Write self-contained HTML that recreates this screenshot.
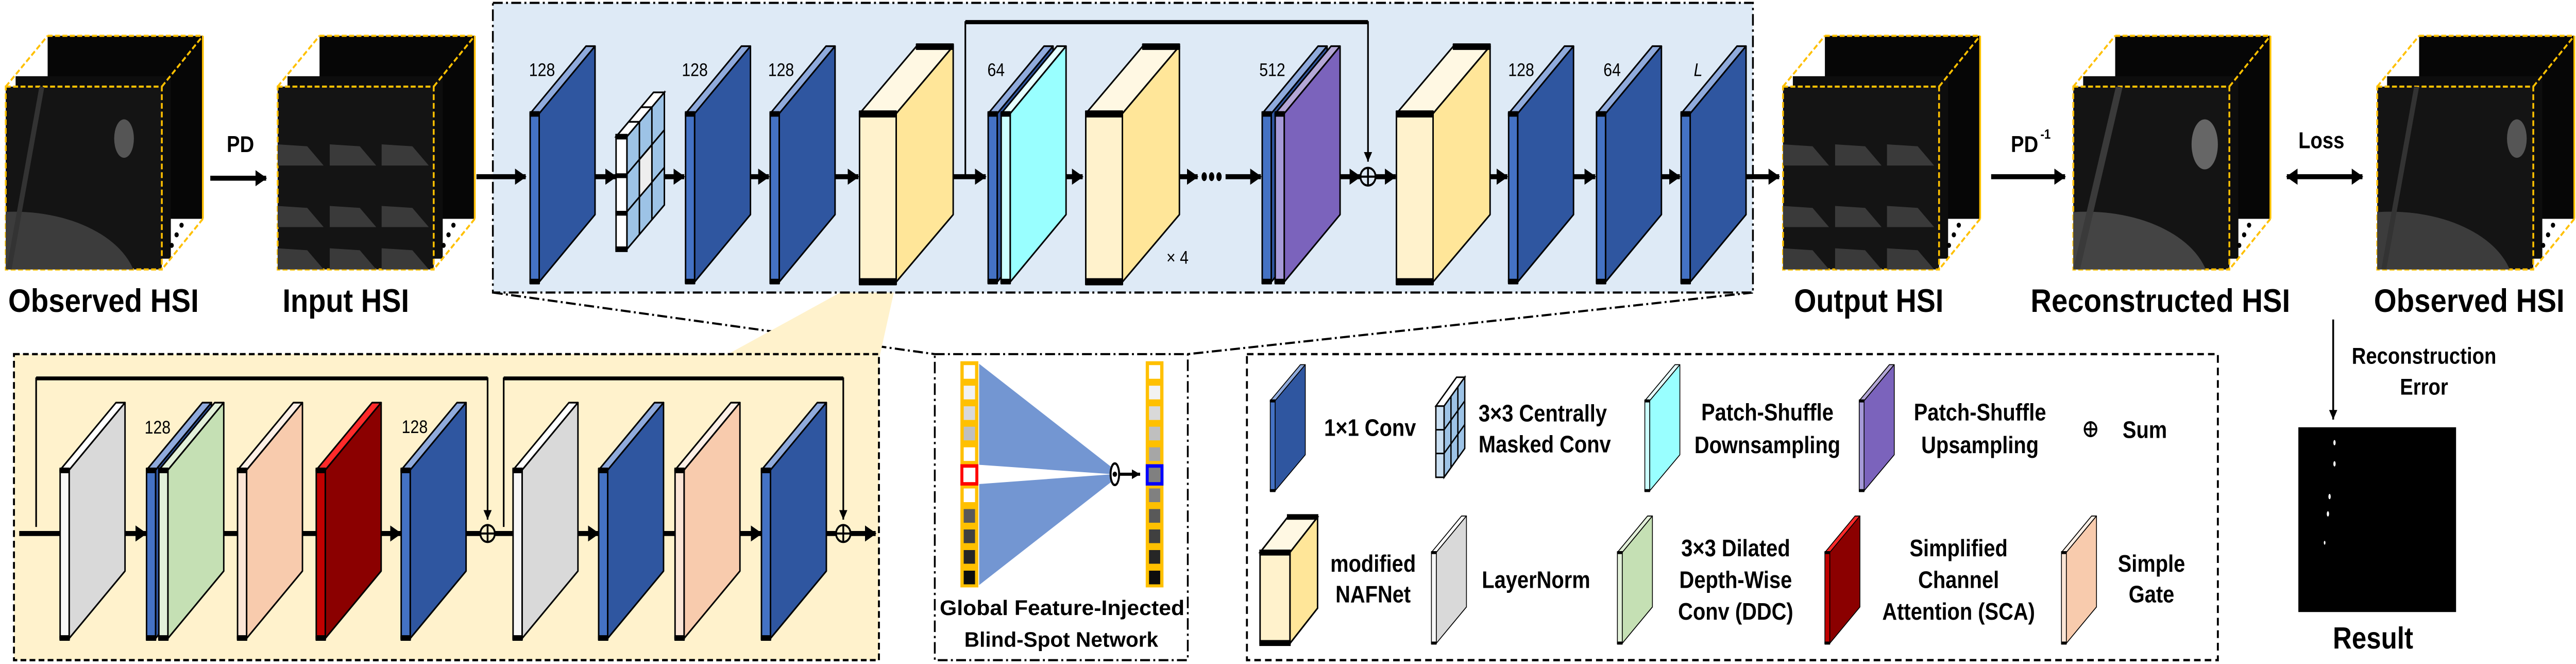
<!DOCTYPE html>
<html><head><meta charset="utf-8"><style>
html,body{margin:0;padding:0;background:#fff;width:100vw;height:100vh;overflow:hidden;}
svg{display:block;position:absolute;left:0;top:0;width:100vw;height:100vh;}
text{font-family:"Liberation Sans",Arial,sans-serif;font-weight:bold;fill:#000;}
</style></head><body>
<svg viewBox="0 0 1568 345" preserveAspectRatio="none" xmlns="http://www.w3.org/2000/svg">
<defs>
<marker id="ah" markerUnits="userSpaceOnUse" markerWidth="8" markerHeight="10" refX="6.5" refY="5" orient="auto"><path d="M0,0.8 L7,5 L0,9.2 Z" fill="#000"/></marker>
<marker id="ahl" markerUnits="userSpaceOnUse" markerWidth="8" markerHeight="10" refX="0.5" refY="5" orient="0"><path d="M7,0.8 L0,5 L7,9.2 Z" fill="#000"/></marker>
<marker id="ahs" markerUnits="userSpaceOnUse" markerWidth="6" markerHeight="6" refX="5" refY="3" orient="auto"><path d="M0,0.5 L5,3 L0,5.5 Z" fill="#000"/></marker>
<g id="pb" stroke="#000" stroke-width="0.9" stroke-linejoin="round"><polygon points="0,0 5.5,0 39.5,-35 34,-35" fill="#8faadc"/><polygon points="5.5,0 39.5,-35 39.5,52.5 5.5,87.5" fill="#2f56a0"/><rect x="0" y="0" width="5.5" height="87.5" fill="#4472c4"/><rect x="0" y="-0.8" width="5.5" height="2" fill="#000"/><rect x="0" y="86.3" width="5.5" height="2" fill="#000"/></g>
<g id="pg" stroke="#000" stroke-width="0.9" stroke-linejoin="round"><polygon points="0,0 5.5,0 39.5,-35 34,-35" fill="#fff"/><polygon points="5.5,0 39.5,-35 39.5,52.5 5.5,87.5" fill="#d9d9d9"/><rect x="0" y="0" width="5.5" height="87.5" fill="#f7f7f7"/><rect x="0" y="-0.8" width="5.5" height="2" fill="#000"/><rect x="0" y="86.3" width="5.5" height="2" fill="#000"/></g>
<g id="pgr" stroke="#000" stroke-width="0.9" stroke-linejoin="round"><polygon points="0,0 5.5,0 39.5,-35 34,-35" fill="#e2f0d9"/><polygon points="5.5,0 39.5,-35 39.5,52.5 5.5,87.5" fill="#c5e0b4"/><rect x="0" y="0" width="5.5" height="87.5" fill="#e2f0d9"/><rect x="0" y="-0.8" width="5.5" height="2" fill="#000"/><rect x="0" y="86.3" width="5.5" height="2" fill="#000"/></g>
<g id="pp" stroke="#000" stroke-width="0.9" stroke-linejoin="round"><polygon points="0,0 5.5,0 39.5,-35 34,-35" fill="#fdf0e7"/><polygon points="5.5,0 39.5,-35 39.5,52.5 5.5,87.5" fill="#f8cbad"/><rect x="0" y="0" width="5.5" height="87.5" fill="#fbe5d6"/><rect x="0" y="-0.8" width="5.5" height="2" fill="#000"/><rect x="0" y="86.3" width="5.5" height="2" fill="#000"/></g>
<g id="pr" stroke="#000" stroke-width="0.9" stroke-linejoin="round"><polygon points="0,0 5.5,0 39.5,-35 34,-35" fill="#ff2a2a"/><polygon points="5.5,0 39.5,-35 39.5,52.5 5.5,87.5" fill="#8b0000"/><rect x="0" y="0" width="5.5" height="87.5" fill="#c00000"/><rect x="0" y="-0.8" width="5.5" height="2" fill="#000"/><rect x="0" y="86.3" width="5.5" height="2" fill="#000"/></g>
<g id="pc" stroke="#000" stroke-width="0.9" stroke-linejoin="round"><polygon points="0,0 5.5,0 39.5,-35 34,-35" fill="#e6ffff"/><polygon points="5.5,0 39.5,-35 39.5,52.5 5.5,87.5" fill="#99ffff"/><rect x="0" y="0" width="5.5" height="87.5" fill="#ccffff"/><rect x="0" y="-0.8" width="5.5" height="2" fill="#000"/><rect x="0" y="86.3" width="5.5" height="2" fill="#000"/></g>
<g id="pu" stroke="#000" stroke-width="0.9" stroke-linejoin="round"><polygon points="0,0 5.5,0 39.5,-35 34,-35" fill="#b4a7d6"/><polygon points="5.5,0 39.5,-35 39.5,52.5 5.5,87.5" fill="#7b63bc"/><rect x="0" y="0" width="5.5" height="87.5" fill="#a69ad8"/><rect x="0" y="-0.8" width="5.5" height="2" fill="#000"/><rect x="0" y="86.3" width="5.5" height="2" fill="#000"/></g>
<g id="nf" stroke="#000" stroke-width="0.9" stroke-linejoin="round"><polygon points="0,0 22.3,0 57,-35 34.7,-35" fill="#fff8e3"/><polygon points="22.3,0 57,-35 57,52.5 22.3,87.5" fill="#ffe699"/><rect x="0" y="0" width="22.3" height="87.5" fill="#fff2cc"/><rect x="0" y="-1.2" width="22.3" height="2.8" fill="#000"/><rect x="0" y="86" width="22.3" height="2.8" fill="#000"/><rect x="34.7" y="-36" width="22.3" height="2.5" fill="#000"/></g>
<g id="cube">
<rect x="25.5" y="18.6" width="94.5" height="95.1" fill="#060606"/>
<rect x="6" y="39.6" width="94.5" height="94.8" fill="#0d0d0d"/>
<rect x="0" y="45" width="95" height="95" fill="#141414"/>
<g stroke="#ffc000" stroke-width="1.1" fill="none" stroke-dasharray="3 1.5">
<rect x="0" y="45" width="95" height="95"/>
<line x1="0" y1="45" x2="25.5" y2="18.6"/><line x1="25.5" y1="18.6" x2="120" y2="18.6"/><line x1="95" y1="45" x2="120" y2="18.6"/><line x1="120" y1="113.7" x2="95" y2="140"/></g>
<line x1="120" y1="18.6" x2="120" y2="113.7" stroke="#ffc000" stroke-width="1.1"/>
<circle cx="107" cy="117" r="1.3" fill="#000"/><circle cx="104" cy="122" r="1.3" fill="#000"/><circle cx="101" cy="127.5" r="1.3" fill="#000"/>
</g>
<clipPath id="fc"><rect x="0" y="45" width="95" height="95"/></clipPath>
</defs>

<!-- top cubes -->
<g transform="translate(3.5,0)"><use href="#cube"/><g clip-path="url(#fc)"><ellipse cx="5" cy="150" rx="75" ry="40" fill="#3c3c3c"/><ellipse cx="72" cy="72" rx="6" ry="10" fill="#555"/><line x1="22" y1="45" x2="2" y2="140" stroke="#333" stroke-width="3"/></g></g>
<g transform="translate(169,0)"><use href="#cube"/><g clip-path="url(#fc)" fill="#3a3a3a"><polygon points="0,75 18,76 28,86 0,86"/><polygon points="31.7,75 50,76 60,86 31.7,86"/><polygon points="63.3,75 82,76 92,86 63.3,86"/><polygon points="0,107 18,108 28,118 0,118"/><polygon points="31.7,107 50,108 60,118 31.7,118"/><polygon points="63.3,107 82,108 92,118 63.3,118"/><polygon points="0,129 18,130 28,140 0,140"/><polygon points="31.7,129 50,130 60,140 31.7,140"/><polygon points="63.3,129 82,130 92,140 63.3,140"/></g></g>
<g transform="translate(1085.3,0)"><use href="#cube"/><g clip-path="url(#fc)" fill="#3a3a3a"><polygon points="0,75 18,76 28,86 0,86"/><polygon points="31.7,75 50,76 60,86 31.7,86"/><polygon points="63.3,75 82,76 92,86 63.3,86"/><polygon points="0,107 18,108 28,118 0,118"/><polygon points="31.7,107 50,108 60,118 31.7,118"/><polygon points="63.3,107 82,108 92,118 63.3,118"/><polygon points="0,129 18,130 28,140 0,140"/><polygon points="31.7,129 50,130 60,140 31.7,140"/><polygon points="63.3,129 82,130 92,140 63.3,140"/></g></g>
<g transform="translate(1262,0)"><use href="#cube"/><g clip-path="url(#fc)"><ellipse cx="8" cy="150" rx="75" ry="40" fill="#444"/><ellipse cx="80" cy="75" rx="8" ry="13" fill="#666"/><line x1="28" y1="45" x2="2" y2="140" stroke="#3a3a3a" stroke-width="4"/></g></g>
<g transform="translate(1447,0)"><use href="#cube"/><g clip-path="url(#fc)"><ellipse cx="8" cy="150" rx="75" ry="40" fill="#3c3c3c"/><ellipse cx="85" cy="72" rx="6" ry="10" fill="#555"/><line x1="24" y1="45" x2="4" y2="140" stroke="#333" stroke-width="3"/></g></g>

<!-- top labels -->
<text x="5" y="162" font-size="17" textLength="116" lengthAdjust="spacingAndGlyphs">Observed HSI</text>
<text x="172" y="162" font-size="17" textLength="77" lengthAdjust="spacingAndGlyphs">Input HSI</text>
<text x="1092" y="162" font-size="17" textLength="91" lengthAdjust="spacingAndGlyphs">Output HSI</text>
<text x="1236" y="162" font-size="17" textLength="158" lengthAdjust="spacingAndGlyphs">Reconstructed HSI</text>
<text x="1445" y="162" font-size="17" textLength="116" lengthAdjust="spacingAndGlyphs">Observed HSI</text>

<!-- PD arrows -->
<line x1="128" y1="92.6" x2="162" y2="92.6" stroke="#000" stroke-width="2.6" marker-end="url(#ah)"/>
<text x="138" y="79" font-size="12">PD</text>
<line x1="1212" y1="91.8" x2="1257" y2="91.8" stroke="#000" stroke-width="2.6" marker-end="url(#ah)"/>
<text x="1224" y="79" font-size="12">PD</text><text x="1242" y="72" font-size="7">-1</text>
<line x1="1392" y1="91.8" x2="1438" y2="91.8" stroke="#000" stroke-width="2.6" marker-end="url(#ah)" marker-start="url(#ahl)"/>
<text x="1399" y="77" font-size="12">Loss</text>

<!-- blue box -->
<line x1="300" y1="152" x2="569" y2="184" stroke="#000" stroke-width="1.1" stroke-dasharray="6 2 1.2 2"/>
<line x1="1067" y1="152" x2="723" y2="184" stroke="#000" stroke-width="1.1" stroke-dasharray="6 2 1.2 2"/>
<polygon points="523.2,146.5 545.5,146.5 535.5,185 441,185" fill="#fff2cc"/>
<rect x="300" y="1.5" width="767" height="150.5" fill="#deeaf6" stroke="#000" stroke-width="1.1" stroke-dasharray="6 2 1.2 2"/>

<!-- skip top -->
<polyline points="587.6,91.8 587.6,11.5 832.7,11.5 832.7,84" fill="none" stroke="#000" stroke-width="1" marker-end="url(#ahs)"/>
<line x1="587.6" y1="11.5" x2="832.7" y2="11.5" stroke="#000" stroke-width="2.2"/>

<!-- top arrows -->
<g stroke="#000" stroke-width="2.6" marker-end="url(#ah)">
<line x1="290" y1="91.8" x2="320" y2="91.8"/>
<line x1="348" y1="91.8" x2="375" y2="91.8"/>
<line x1="393.5" y1="91.8" x2="416.5" y2="91.8"/>
<line x1="445.5" y1="91.8" x2="468" y2="91.8"/>
<line x1="500" y1="91.8" x2="522.5" y2="91.8"/>
<line x1="569" y1="91.8" x2="600" y2="91.8"/>
<line x1="631" y1="91.8" x2="659" y2="91.8"/>
<line x1="703" y1="91.8" x2="729" y2="91.8"/>
<line x1="746" y1="91.8" x2="767.5" y2="91.8"/>
<line x1="800.5" y1="91.8" x2="828" y2="91.8"/>
<line x1="837.5" y1="91.8" x2="849.5" y2="91.8"/>
<line x1="894.5" y1="91.8" x2="917.5" y2="91.8"/>
<line x1="949" y1="91.8" x2="971" y2="91.8"/>
<line x1="1000" y1="91.8" x2="1022.5" y2="91.8"/>
<line x1="1045" y1="91.8" x2="1083" y2="91.8"/>
</g>
<g fill="#000"><ellipse cx="733" cy="91.8" rx="1.6" ry="2.3"/><ellipse cx="737.5" cy="91.8" rx="1.6" ry="2.3"/><ellipse cx="742" cy="91.8" rx="1.6" ry="2.3"/></g>

<!-- top panels -->
<use href="#pb" x="322.7" y="59"/>
<g stroke="#000" stroke-width="0.9">
<polygon points="375,71 381.6,71 404.4,48 397.8,48" fill="#fff"/>
<polygon points="381.6,71 404.4,48 404.4,106.5 381.6,129.5" fill="#9dc3e6"/>
<rect x="375" y="71" width="6.6" height="58.5" fill="#fff"/>
<line x1="381.6" y1="90.5" x2="404.4" y2="67.5"/><line x1="381.6" y1="110" x2="404.4" y2="87"/>
<line x1="389.2" y1="63.3" x2="389.2" y2="121.8"/><line x1="396.8" y1="55.7" x2="396.8" y2="114.2"/>
<line x1="382.6" y1="63.3" x2="389.2" y2="63.3"/><line x1="390.2" y1="55.7" x2="396.8" y2="55.7"/>
<polygon points="389.2,82.9 396.8,75.3 396.8,94.8 389.2,102.4" fill="#eeeeee"/>
<rect x="375" y="90.5" width="6.6" height="1.6" fill="#000"/><rect x="375" y="110" width="6.6" height="1.6" fill="#000"/>
<rect x="375" y="70" width="6.6" height="2" fill="#000"/><rect x="375" y="128.5" width="6.6" height="2" fill="#000"/>
</g>
<use href="#pb" x="417.3" y="59"/>
<use href="#pb" x="468.8" y="59"/>
<use href="#nf" x="523.2" y="59"/>
<use href="#pb" x="601.5" y="59"/>
<use href="#pc" x="609.4" y="59"/>
<use href="#nf" x="660.9" y="59"/>
<use href="#pb" x="768.3" y="59"/>
<use href="#pu" x="776.2" y="59"/>
<use href="#nf" x="850" y="59"/>
<use href="#pb" x="918.3" y="59"/>
<use href="#pb" x="971.8" y="59"/>
<use href="#pb" x="1023.3" y="59"/>
<g stroke="#000" stroke-width="1.1" fill="#deeaf6"><circle cx="832.7" cy="91.8" r="4.6"/><line x1="828.1" y1="91.8" x2="837.3" y2="91.8"/><line x1="832.7" y1="87.2" x2="832.7" y2="96.4"/></g>
<g font-size="9.5">
<text x="322" y="39.5" style="font-weight:normal">128</text>
<text x="415" y="39.5" style="font-weight:normal">128</text>
<text x="467.5" y="39.5" style="font-weight:normal">128</text>
<text x="601" y="39.5" style="font-weight:normal">64</text>
<text x="766.5" y="39.5" style="font-weight:normal">512</text>
<text x="918" y="39.5" style="font-weight:normal">128</text>
<text x="976" y="39.5" style="font-weight:normal">64</text>
<text x="1031" y="39.5" style="font-weight:normal;font-style:italic">L</text>
<text x="710" y="137" style="font-weight:normal">× 4</text>
</g>

<!-- bottom yellow box -->
<rect x="8.5" y="184" width="526.5" height="159" fill="#fff2cc" stroke="#000" stroke-width="1.2" stroke-dasharray="3.5 2"/>
<polyline points="22,273.8 22,196.6 296.8,196.6 296.8,270" fill="none" stroke="#000" stroke-width="1" marker-end="url(#ahs)"/>
<line x1="22" y1="196.6" x2="296.8" y2="196.6" stroke="#000" stroke-width="2"/>
<polyline points="306.6,273.8 306.6,196.6 513.3,196.6 513.3,270" fill="none" stroke="#000" stroke-width="1" marker-end="url(#ahs)"/>
<line x1="306.6" y1="196.6" x2="513.3" y2="196.6" stroke="#000" stroke-width="2"/>
<g stroke="#000" stroke-width="2.6">
<line x1="11.7" y1="277.2" x2="36.6" y2="277.2"/>
<line x1="60" y1="277.2" x2="89" y2="277.2" marker-end="url(#ah)"/>
<line x1="120" y1="277.2" x2="144.6" y2="277.2"/>
<line x1="168" y1="277.2" x2="192.5" y2="277.2"/>
<line x1="216" y1="277.2" x2="244" y2="277.2" marker-end="url(#ah)"/>
<line x1="267.7" y1="277.2" x2="296" y2="277.2"/>
<line x1="300" y1="277.2" x2="312" y2="277.2"/>
<line x1="334.8" y1="277.2" x2="364.4" y2="277.2" marker-end="url(#ah)"/>
<line x1="394.5" y1="277.2" x2="410.9" y2="277.2"/>
<line x1="433" y1="277.2" x2="463.5" y2="277.2" marker-end="url(#ah)"/>
<line x1="488" y1="277.2" x2="512" y2="277.2"/>
<line x1="515" y1="277.2" x2="533" y2="277.2" marker-end="url(#ah)"/>
</g>
<use href="#pg" x="36.6" y="244.2"/>
<use href="#pb" x="89.2" y="244.2"/>
<use href="#pgr" x="96.7" y="244.2"/>
<use href="#pp" x="144.6" y="244.2"/>
<use href="#pr" x="192.5" y="244.2"/>
<use href="#pb" x="244.2" y="244.2"/>
<use href="#pg" x="312.3" y="244.2"/>
<use href="#pb" x="364.4" y="244.2"/>
<use href="#pp" x="410.9" y="244.2"/>
<use href="#pb" x="463.5" y="244.2"/>
<g stroke="#000" stroke-width="1.1" fill="#fff2cc"><circle cx="296.8" cy="277.2" r="4.4"/><line x1="292.4" y1="277.2" x2="301.2" y2="277.2"/><line x1="296.8" y1="272.8" x2="296.8" y2="281.6"/><circle cx="513.3" cy="277.2" r="4.4"/><line x1="508.9" y1="277.2" x2="517.7" y2="277.2"/><line x1="513.3" y1="272.8" x2="513.3" y2="281.6"/></g>
<text x="88" y="225.3" font-size="9.5" style="font-weight:normal">128</text>
<text x="244.5" y="225" font-size="9.5" style="font-weight:normal">128</text>

<!-- blind spot box -->
<rect x="569" y="184" width="154" height="159" fill="#fff" stroke="#000" stroke-width="1.1" stroke-dasharray="6 2 1.2 2"/>
<polygon points="596,189 677,243 677,250 596,304" fill="#7396d2"/>
<polygon points="596,241.5 677.5,246.4 596,251.5" fill="#fff"/>
<rect x="584.6" y="187.7" width="10.9" height="117.5" fill="#ffc000"/>
<g>
<rect x="586.6" y="189.7" width="6.9" height="7.1" fill="#fff"/>
<rect x="586.6" y="200.4" width="6.9" height="7.1" fill="#f2f2f2"/>
<rect x="586.6" y="211.1" width="6.9" height="7.1" fill="#d9d9d9"/>
<rect x="586.6" y="221.7" width="6.9" height="7.1" fill="#bfbfbf"/>
<rect x="586.6" y="232.4" width="6.9" height="7.1" fill="#fff"/>
<rect x="585.5" y="242.1" width="9.1" height="9.3" fill="#fff" stroke="#ff0000" stroke-width="1.8"/>
<rect x="586.6" y="253.8" width="6.9" height="7.1" fill="#fff"/>
<rect x="586.6" y="264.5" width="6.9" height="7.1" fill="#595959"/>
<rect x="586.6" y="275.1" width="6.9" height="7.1" fill="#404040"/>
<rect x="586.6" y="285.8" width="6.9" height="7.1" fill="#262626"/>
<rect x="586.6" y="296.5" width="6.9" height="7.1" fill="#0d0d0d"/>
</g>
<rect x="697.4" y="187.7" width="10.8" height="117.5" fill="#ffc000"/>
<g>
<rect x="699.4" y="189.7" width="6.8" height="7.1" fill="#fff"/>
<rect x="699.4" y="200.4" width="6.8" height="7.1" fill="#f2f2f2"/>
<rect x="699.4" y="211.1" width="6.8" height="7.1" fill="#d9d9d9"/>
<rect x="699.4" y="221.7" width="6.8" height="7.1" fill="#bfbfbf"/>
<rect x="699.4" y="232.4" width="6.8" height="7.1" fill="#a6a6a6"/>
<rect x="698.3" y="242.1" width="9" height="9.3" fill="#808080" stroke="#0000ff" stroke-width="1.8"/>
<rect x="699.4" y="253.8" width="6.8" height="7.1" fill="#808080"/>
<rect x="699.4" y="264.5" width="6.8" height="7.1" fill="#595959"/>
<rect x="699.4" y="275.1" width="6.8" height="7.1" fill="#404040"/>
<rect x="699.4" y="285.8" width="6.8" height="7.1" fill="#262626"/>
<rect x="699.4" y="296.5" width="6.8" height="7.1" fill="#0d0d0d"/>
</g>
<ellipse cx="678.6" cy="246.4" rx="2.6" ry="5.6" fill="#fff" stroke="#000" stroke-width="1.2"/>
<circle cx="678.6" cy="246.4" r="1.6" fill="#000" stroke="#fff" stroke-width="0.5"/>
<line x1="681.5" y1="246.4" x2="694" y2="246.4" stroke="#000" stroke-width="1.6" marker-end="url(#ahs)"/>
<text x="572" y="319.5" font-size="11" textLength="149" lengthAdjust="spacingAndGlyphs">Global Feature-Injected</text>
<text x="587" y="336" font-size="11" textLength="118" lengthAdjust="spacingAndGlyphs">Blind-Spot Network</text>

<!-- legend -->
<rect x="759" y="184" width="591" height="159" fill="#fff" stroke="#000" stroke-width="1.2" stroke-dasharray="4 2.5"/>
<use href="#pb" transform="translate(773.2,208.2) scale(0.54,0.535)"/>
<g stroke="#000" stroke-width="0.8">
<polygon points="874,211 879,211 891.6,196 886.6,196" fill="#fff"/>
<polygon points="879,211 891.6,196 891.6,233 879,248" fill="#9dc3e6"/>
<rect x="874" y="211" width="5" height="37" fill="#c9dff2"/>
<line x1="879" y1="223.3" x2="891.6" y2="208.3"/><line x1="879" y1="235.6" x2="891.6" y2="220.6"/>
<line x1="883.2" y1="206" x2="883.2" y2="243"/><line x1="887.4" y1="201" x2="887.4" y2="238"/>
<line x1="874" y1="223.3" x2="879" y2="223.3"/><line x1="874" y1="235.6" x2="879" y2="235.6"/>
</g>
<use href="#pc" transform="translate(1001.2,208.2) scale(0.54,0.535)"/>
<use href="#pu" transform="translate(1131.7,208.2) scale(0.54,0.535)"/>
<g stroke="#000" stroke-width="1.1" fill="#fff"><circle cx="1272.5" cy="223" r="3.6"/><line x1="1268.9" y1="223" x2="1276.1" y2="223"/><line x1="1272.5" y1="219.4" x2="1272.5" y2="226.6"/></g>
<g stroke="#000" stroke-width="0.9">
<polygon points="767,287 785.2,287 802,268.7 783.8,268.7" fill="#fff8e3"/>
<polygon points="785.2,287 802,268.7 802,316 785.2,334.3" fill="#ffe699"/>
<rect x="767" y="287" width="18.2" height="47.3" fill="#fff2cc"/>
<rect x="767" y="286" width="18.2" height="2.2" fill="#000"/><rect x="767" y="333" width="18.2" height="2.2" fill="#000"/><rect x="783.8" y="267.6" width="18.2" height="2" fill="#000"/>
</g>
<use href="#pg" transform="translate(871.3,287) scale(0.54,0.54)"/>
<use href="#pgr" transform="translate(984.5,287) scale(0.54,0.54)"/>
<use href="#pr" transform="translate(1110.8,287) scale(0.54,0.54)"/>
<use href="#pp" transform="translate(1254.8,287) scale(0.54,0.54)"/>
<g font-size="12.5">
<text x="806" y="226.5">1×1 Conv</text>
<text x="900" y="219">3×3  Centrally</text>
<text x="900" y="235">Masked Conv</text>
<text x="1075.8" y="218.5" text-anchor="middle">Patch-Shuffle</text>
<text x="1075.8" y="235.5" text-anchor="middle">Downsampling</text>
<text x="1205.2" y="218.5" text-anchor="middle">Patch-Shuffle</text>
<text x="1205.2" y="235.5" text-anchor="middle">Upsampling</text>
<text x="1292" y="227.5">Sum</text>
<text x="835.8" y="297" text-anchor="middle">modified</text>
<text x="835.8" y="313" text-anchor="middle">NAFNet</text>
<text x="902" y="305.5">LayerNorm</text>
<text x="1056.5" y="289" text-anchor="middle">3×3 Dilated</text>
<text x="1056.5" y="305.5" text-anchor="middle">Depth-Wise</text>
<text x="1056.5" y="322" text-anchor="middle">Conv (DDC)</text>
<text x="1192.2" y="289" text-anchor="middle">Simplified</text>
<text x="1192.2" y="305.5" text-anchor="middle">Channel</text>
<text x="1192.2" y="322" text-anchor="middle">Attention (SCA)</text>
<text x="1309.6" y="297" text-anchor="middle">Simple</text>
<text x="1309.6" y="313" text-anchor="middle">Gate</text>
</g>

<!-- result -->
<line x1="1420.2" y1="166" x2="1420.2" y2="218" stroke="#000" stroke-width="1.1" marker-end="url(#ahs)"/>
<text x="1475.5" y="189" font-size="12" text-anchor="middle">Reconstruction</text>
<text x="1475.5" y="205" font-size="12" text-anchor="middle">Error</text>
<rect x="1399" y="222" width="96" height="96" fill="#000"/>
<g fill="#fff"><ellipse cx="1421" cy="230" rx="0.7" ry="1.4"/><ellipse cx="1421" cy="241" rx="0.7" ry="1.4"/><ellipse cx="1418" cy="258" rx="0.7" ry="1.4"/><ellipse cx="1417" cy="267" rx="0.7" ry="1.4"/><ellipse cx="1415" cy="282" rx="0.5" ry="1"/></g>
<text x="1420" y="337" font-size="16">Result</text>
</svg>
</body></html>
